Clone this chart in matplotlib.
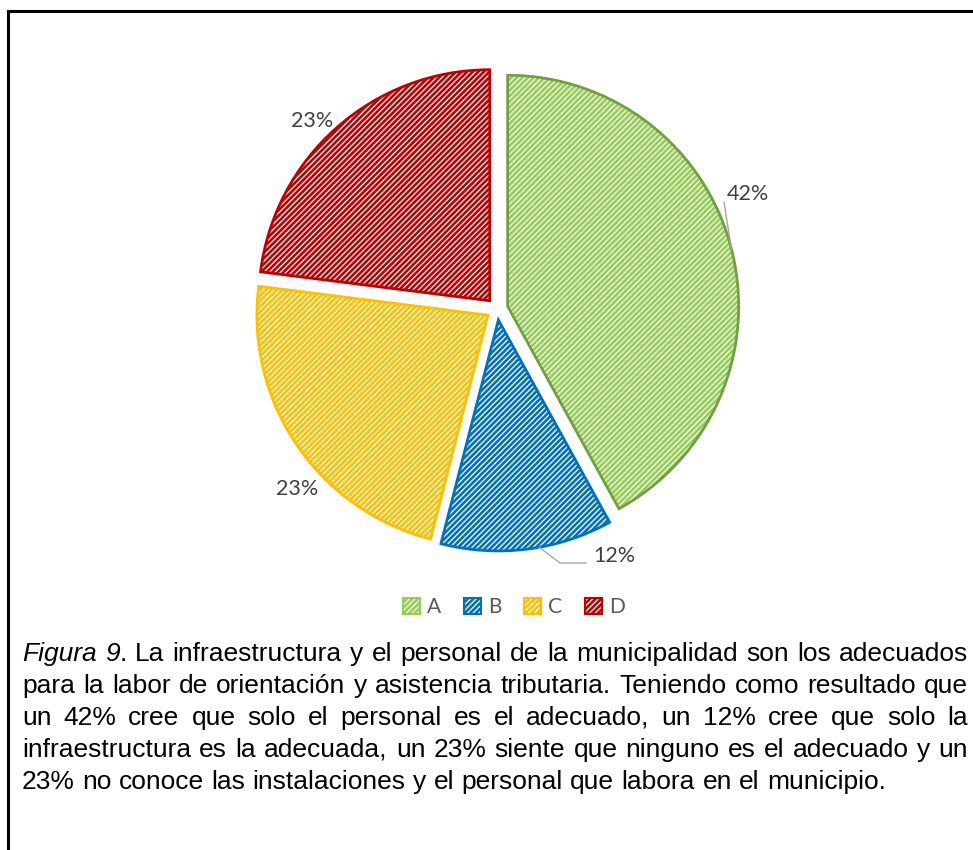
import matplotlib.pyplot as plt
from matplotlib.patches import Patch
from matplotlib.lines import Line2D
import numpy as np

plt.rcParams['hatch.linewidth'] = 1.9

categories = ['A', 'B', 'C', 'D']
values = [42, 12, 23, 23]
hatch_colors = ['#92D050', '#0070C0', '#FFC000', '#C00000']
edge_colors = ['#70A040', '#0070C0', '#FFC000', '#C00000']
pct_labels = ['42%', '12%', '23%', '23%']

caption_lines = [
    'Figura 9. La infraestructura y el personal de la municipalidad son los adecuados',
    'para la labor de orientación y asistencia tributaria. Teniendo como resultado que',
    'un 42% cree que solo el personal es el adecuado, un 12% cree que solo la',
    'infraestructura es la adecuada, un 23% siente que ninguno es el adecuado y un',
    '23% no conoce las instalaciones y el personal que labora en el municipio.',
]
italic_prefix = 'Figura 9'

W, H = 973, 850
fig = plt.figure(figsize=(W / 100, H / 100), dpi=100)
ax = fig.add_axes([0, 0, 1, 1])

center = (497, H - 309)
radius = 231
explode = [11] * 4  # data units == pixels here

# hatched fill
wedges, _ = ax.pie(values, startangle=90, counterclock=False, explode=explode,
                   radius=radius, center=center, frame=True,
                   wedgeprops=dict(facecolor='white', linewidth=0))
for w, c in zip(wedges, hatch_colors):
    w.set_hatch('//////')
    w.set_edgecolor(c)
# outlines
outl, _ = ax.pie(values, startangle=90, counterclock=False, explode=explode,
                 radius=radius, center=center, frame=True,
                 wedgeprops=dict(fill=False, linewidth=2))
for w, c in zip(outl, edge_colors):
    w.set_edgecolor(c)
ax.set_xlim(0, W)
ax.set_ylim(0, H)
ax.set_aspect('auto')
ax.axis('off')

# data labels (angle in deg, distance in px from pie center)
label_angles = [24.6, -64.6, 222.0, 134.5]
label_dist = [276, 273, 269, 264]
for lab, a, d in zip(pct_labels, label_angles, label_dist):
    x = center[0] + d * np.cos(np.radians(a))
    y = center[1] + d * np.sin(np.radians(a))
    ax.text(x, y, lab, fontsize=15.5, color='#404040', family='Lato',
            ha='center', va='center')

# leader lines for A and B
wa = wedges[0]
mid = np.radians((wa.theta1 + wa.theta2) / 2)
ax.plot([wa.center[0] + radius * np.cos(mid), 724], [wa.center[1] + radius * np.sin(mid), H - 202],
        color='#A6A6A6', lw=1)
wb = wedges[1]
mid = np.radians((wb.theta1 + wb.theta2) / 2 + 3)
ax.plot([wb.center[0] + radius * np.cos(mid), 560, 586],
        [wb.center[1] + radius * np.sin(mid), H - 563, H - 563],
        color='#A6A6A6', lw=1)

# legend
handles = [Patch(facecolor='white', edgecolor=c, hatch='//////', linewidth=1.5) for c in hatch_colors]
leg = fig.legend(handles, categories, loc='center', bbox_to_anchor=(514 / W, 1 - 607 / H),
                 ncol=4, frameon=False, handlelength=0.8, handleheight=0.8,
                 handletextpad=0.35, columnspacing=1.1,
                 prop=dict(family='Lato', size=15))
for t in leg.get_texts():
    t.set_color('#595959')

# frame
fig.add_artist(Line2D([8 / W, 1], [1 - 11 / H] * 2, color='black', lw=2.2, transform=fig.transFigure))
fig.add_artist(Line2D([8 / W] * 2, [0, 1 - 11 / H], color='black', lw=2.2, transform=fig.transFigure))

# justified caption
fs = 19
left, right = 22, 968
line_y = [654, 686, 718, 750, 782]
renderer = fig.canvas.get_renderer()


def seg_width(s, style):
    t = fig.text(0, 0, s, fontsize=fs, family='Liberation Sans', style=style)
    bb = t.get_window_extent(renderer)
    t.remove()
    return bb.width


space_w = seg_width('a a', 'normal') - 2 * seg_width('a', 'normal')
for li, (line, yp) in enumerate(zip(caption_lines, line_y)):
    words = []
    pos = 0
    for w in line.split(' '):
        segs = []
        if li == 0 and pos < len(italic_prefix):
            cut = min(len(w), len(italic_prefix) - pos)
            segs.append((w[:cut], 'italic'))
            if w[cut:]:
                segs.append((w[cut:], 'normal'))
        else:
            segs.append((w, 'normal'))
        pos += len(w) + 1
        words.append([(s, st, seg_width(s, st)) for s, st in segs])
    widths = [sum(sg[2] for sg in wd) for wd in words]
    if li < len(caption_lines) - 1:
        gap = (right - left - sum(widths)) / (len(words) - 1)
    else:
        gap = space_w
    x = left
    for wd, wdt in zip(words, widths):
        sx = x
        for s, st, sw in wd:
            fig.text(sx / W, 1 - yp / H, s, fontsize=fs, family='Liberation Sans', style=st,
                     ha='left', va='center', color='black')
            sx += sw
        x += wdt + gap

fig.savefig('out.png', dpi=100)
